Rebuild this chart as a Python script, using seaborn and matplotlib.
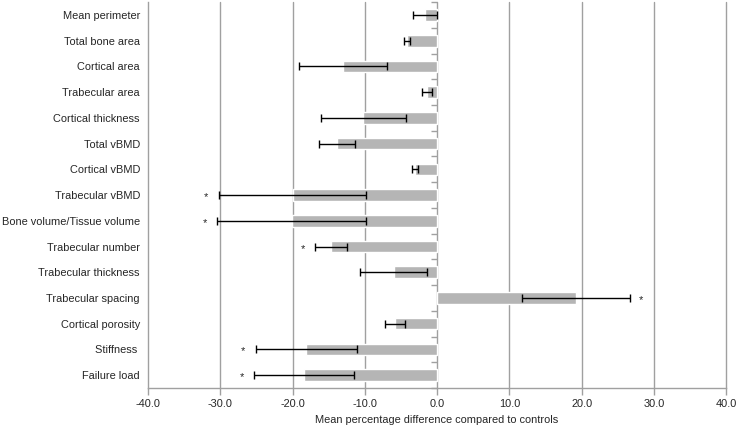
import numpy as np
import pandas as pd
import seaborn as sns
import matplotlib.pyplot as plt

# Mean percentage difference vs controls, with error bar half-widths
labels = ['Mean perimeter', 'Total bone area', 'Cortical area', 'Trabecular area',
          'Cortical thickness', 'Total vBMD', 'Cortical vBMD', 'Trabecular vBMD',
          'Bone volume/Tissue volume', 'Trabecular number', 'Trabecular thickness',
          'Trabecular spacing', 'Cortical porosity', 'Stiffness ', 'Failure load']
means = [-1.7, -4.2, -13.0, -1.4, -10.2, -13.9, -3.1, -20.0, -20.1, -14.7, -6.0,
         19.2, -5.8, -18.1, -18.4]
errors = [1.7, 0.4, 6.1, 0.7, 5.9, 2.5, 0.4, 10.2, 10.3, 2.2, 4.6, 7.5, 1.4, 7.0, 6.9]
significant = [False, False, False, False, False, False, False, True, True, True,
               False, True, False, True, True]

df = pd.DataFrame({'label': labels, 'mean': means, 'err': errors, 'sig': significant})

sns.set_style('white')
plt.rcParams['font.family'] = ['Liberation Sans', 'DejaVu Sans']
fs = 7.9

fig = plt.figure(figsize=(7.38, 4.28), dpi=100)
ax = fig.add_axes([0.2005, 0.0935, 0.7835, 0.9015])

grid_col = '#a0a0a0'
for xv in range(-30, 41, 10):
    ax.axvline(xv, color=grid_col, lw=1, zorder=0, clip_on=False)

sns.barplot(data=df, x='mean', y='label', color='#b5b5b5', width=0.45,
            saturation=1, errorbar=None, ax=ax, zorder=2)

ypos = np.arange(len(df))
ax.errorbar(df['mean'], ypos, xerr=df['err'], fmt='none', ecolor='black',
            elinewidth=1, capsize=3, capthick=1, zorder=3)

# significance markers just beyond the outer end of the error bar
for y, (m, e, s) in enumerate(zip(df['mean'], df['err'], df['sig'])):
    if not s:
        continue
    if m < 0:
        ax.annotate('*', (m - e, y), xytext=(-9, -1.5), textcoords='offset points',
                    ha='center', va='center', fontsize=fs)
    else:
        ax.annotate('*', (m + e, y), xytext=(7.5, -1.5), textcoords='offset points',
                    ha='center', va='center', fontsize=fs)

# small ticks on the zero axis between categories
bounds = np.arange(-0.5, len(df), 1.0)
ax.plot(np.zeros_like(bounds), bounds, linestyle='none', marker=0, ms=4,
        mew=1, color=grid_col, clip_on=False, zorder=1)

ax.set_xlim(-40, 40)
ax.set_ylim(len(df) - 0.5, -0.5)
ax.set_xticks(range(-40, 41, 10))
ax.set_xticklabels([f'{v:.1f}' for v in range(-40, 41, 10)], fontsize=fs)
ax.tick_params(axis='x', length=5, color=grid_col, width=1, pad=3, bottom=True)
ax.tick_params(axis='y', length=0, pad=5.8, labelsize=fs)
ax.set_ylabel('')
ax.set_xlabel('Mean percentage difference compared to controls', fontsize=fs, labelpad=4)

sns.despine(ax=ax, top=True, right=True)
for side in ['left', 'bottom']:
    ax.spines[side].set_color(grid_col)
    ax.spines[side].set_linewidth(1)

fig.savefig('out.png', dpi=100)
